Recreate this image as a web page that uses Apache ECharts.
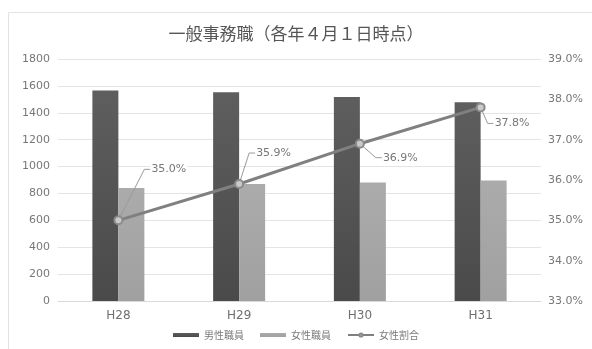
<!DOCTYPE html>
<html>
<head>
<meta charset="utf-8">
<script src="https://cdn.jsdelivr.net/npm/echarts@6/dist/echarts.min.js"></script>
<style>
  html, body { margin: 0; padding: 0; background: #ffffff; }
  #chart { width: 592px; height: 349px; }
</style>
</head>
<body>
<div id="chart"></div>
<script>
// Staff counts and female share, general clerical positions (as of April 1 each year)
const categories = ['H28', 'H29', 'H30', 'H31'];
const maleStaff = [1565, 1553, 1518, 1478];
const femaleStaff = [840, 870, 882, 897];
const femaleRatio = [35.0, 35.9, 36.9, 37.8];
const seriesNames = ['男性職員', '女性職員', '女性割合'];
const titleText = '一般事務職（各年４月１日時点）';

// label offsets for the ratio callouts
const ratioLabelShift = [
  { dx: 22, dy: -51 },
  { dx: 6, dy: -31 },
  { dx: 12, dy: 14 },
  { dx: 3, dy: 16 }
];

const font = '"Noto Sans CJK JP", "Noto Sans", sans-serif';
const numFont = '"DejaVu Sans", "Noto Sans", sans-serif';
const chart = echarts.init(document.getElementById('chart'), null, { renderer: 'canvas' });

const barGrad = (top, bottom) => new echarts.graphic.LinearGradient(0, 0, 0, 1, [
  { offset: 0, color: top },
  { offset: 1, color: bottom }
]);

chart.setOption({
  animation: false,
  backgroundColor: '#ffffff',
  textStyle: { fontFamily: font },
  graphic: [{
    type: 'rect',
    shape: { x: 8.5, y: 12.5, width: 620, height: 400 },
    style: { fill: 'none', stroke: '#e2e2e2', lineWidth: 1 },
    silent: true,
    z: -1
  }],
  title: {
    text: titleText,
    left: 'center',
    top: 20,
    textStyle: { fontFamily: font, fontSize: 17, fontWeight: 'normal', color: '#555555' }
  },
  legend: {
    bottom: 4,
    left: 'center',
    itemWidth: 26,
    itemHeight: 4,
    itemGap: 16,
    textStyle: { fontFamily: font, fontSize: 10, color: '#7a7a7a' },
    data: [
      { name: seriesNames[0], icon: 'rect' },
      { name: seriesNames[1], icon: 'rect' },
      { name: seriesNames[2] }
    ]
  },
  grid: { left: 58, right: 51, top: 59, bottom: 48 },
  xAxis: {
    type: 'category',
    data: categories,
    axisLine: { show: true, lineStyle: { color: '#d9d9d9' } },
    axisTick: { show: false },
    axisLabel: { color: '#707070', fontSize: 12, margin: 9, fontFamily: numFont }
  },
  yAxis: [{
    type: 'value',
    min: 0,
    max: 1800,
    interval: 200,
    axisLine: { show: false },
    axisTick: { show: false },
    axisLabel: {
      color: '#777777', fontSize: 11, margin: 8, fontFamily: numFont,
      formatter: v => String(v)
    },
    splitLine: { lineStyle: { color: '#e4e4e4', width: 1 } }
  }, {
    type: 'value',
    min: 33,
    max: 39,
    interval: 1,
    axisLine: { show: false },
    axisTick: { show: false },
    splitLine: { show: false },
    axisLabel: {
      color: '#777777', fontSize: 11, margin: 7, fontFamily: numFont,
      formatter: v => v.toFixed(1) + '%'
    }
  }],
  series: [{
    name: seriesNames[0],
    type: 'bar',
    data: maleStaff,
    barWidth: 26,
    barGap: '0%',
    itemStyle: { color: barGrad('#5e5e5e', '#4a4a4a') }
  }, {
    name: seriesNames[1],
    type: 'bar',
    data: femaleStaff,
    barWidth: 26,
    itemStyle: { color: barGrad('#ababab', '#a0a0a0') }
  }, {
    name: seriesNames[2],
    type: 'line',
    yAxisIndex: 1,
    data: femaleRatio,
    symbol: 'circle',
    symbolSize: 8,
    lineStyle: { color: '#808080', width: 3 },
    itemStyle: { color: '#c9c9c9', borderColor: '#8a8a8a', borderWidth: 2 },
    z: 5,
    label: {
      show: true,
      position: 'right',
      distance: 5,
      color: '#777777',
      fontSize: 11,
      fontFamily: numFont,
      backgroundColor: '#ffffff',
      padding: [1, 1],
      formatter: p => p.value.toFixed(1) + '%'
    },
    labelLine: {
      show: true,
      length2: 6,
      lineStyle: { color: '#9a9a9a', width: 1 }
    },
    labelLayout: p => ratioLabelShift[p.dataIndex]
  }]
});
</script>
</body>
</html>
